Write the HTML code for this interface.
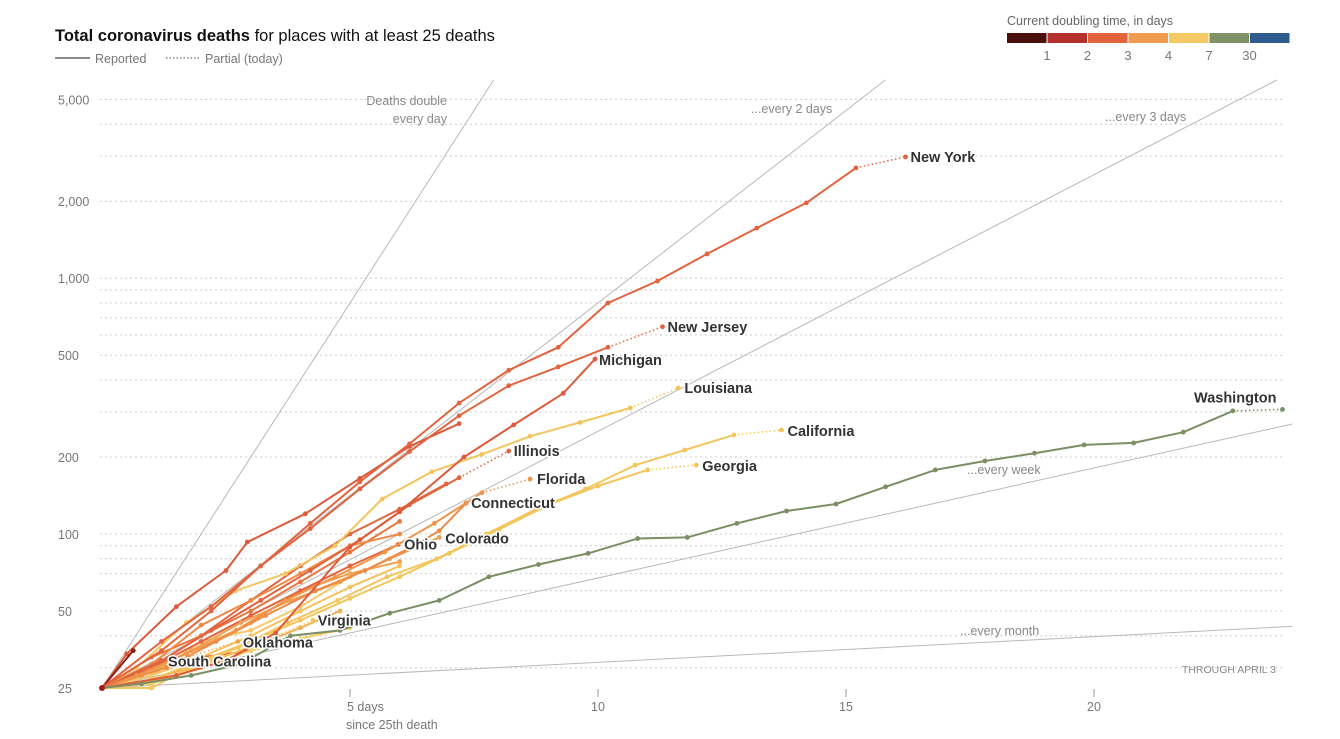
<!DOCTYPE html>
<html><head><meta charset="utf-8">
<style>
html,body{margin:0;padding:0;background:#fff;}
svg{display:block;font-family:"Liberation Sans",sans-serif;}
.lbl{font-weight:bold;font-size:14.5px;fill:#333;paint-order:stroke;stroke:#fff;stroke-width:3px;stroke-linejoin:round;}
.ref{font-size:12.5px;fill:#888;}
.tick{font-size:12.5px;fill:#777;}
</style></head>
<body>
<svg id="chart" width="1340" height="739" viewBox="0 0 1340 739">
  <g>
    <text x="55" y="41" font-size="16.5" fill="#121212"><tspan font-weight="bold">Total coronavirus deaths</tspan> for places with at least 25 deaths</text>
  </g>
  <g>
    <line x1="55" y1="58" x2="90" y2="58" stroke="#666" stroke-width="1.5"/>
    <text x="95" y="63" font-size="12.5" fill="#777">Reported</text>
    <line x1="166" y1="58" x2="200" y2="58" stroke="#888" stroke-width="1.5" stroke-dasharray="1.5,2"/>
    <text x="205" y="63" font-size="12.5" fill="#777">Partial (today)</text>
  </g>
  <g id="colorLegend">
    <text x="1007" y="25" font-size="12.5" fill="#666">Current doubling time, in days</text>
  </g>
  <g id="grid"></g>
  <g id="refs"></g>
  <g id="axes"></g>
  <g id="series"></g>
  <g id="labels"></g>
</svg>
<script>
// ---- data ----
const yTickValues = [25, 50, 100, 200, 500, 1000, 2000, 5000];
const yTickLabels = ["25", "50", "100", "200", "500", "1,000", "2,000", "5,000"];
const gridValues = [30,40,50,60,70,80,90,100,200,300,400,500,600,700,800,900,1000,2000,3000,4000,5000];
const xTickValues = [5, 10, 15, 20];
const xTickLabels = ["5 days", "10", "15", "20"];
const refDoublingDays = [1, 2, 3, 7, 30];
const legendLabels = ["1", "2", "3", "4", "7", "30"];

const seriesNames = ["", "", "", "", "", "", "", "", "", "", "",
  "South Carolina", "Oklahoma", "Virginia", "Ohio", "Colorado", "Connecticut", "Florida", "Illinois",
  "Georgia", "California", "Louisiana", "Michigan", "New Jersey", "New York", "Washington"];
const seriesDays = [
  [0,0.5,1.5,2.5,2.93,4.1,5.2,6.2,7.2],
  [0,1,2,3,4,5,6,6.94],
  [0,1,2,3,4,5,6],
  [0,1,2,3,4,5,6],
  [0,1,2,3,4,5,6],
  [0,1,2,3,4,4.8],
  [0,1,2,3],
  [0,1,2,3,4,5],
  [0,1,2,3,4,5,6],
  [0,0.63],
  [0,1,2,3,4,5],
  [0,1.17],
  [0,0.75,1.75,2.74],
  [0,1.25,2.25,3.25,4.25],
  [0,1,2,3,4,5,5.97],
  [0,0.8,1.8,2.8,3.8,4.8,5.8,6.8],
  [0,1.3,2.3,3.3,4.3,5.3,6.3,6.8,7.34],
  [0,0.7,1.7,2.7,3.7,4.7,5.7,6.7,7.66,8.63],
  [0,1.2,2.2,3.2,4.2,5.2,6.2,7.2,8.2],
  [0,1,2,3,4,5,6,7,8,9,10,11,11.98],
  [0,1,1.75,2.75,3.75,4.75,5.75,6.75,7.75,8.75,9.75,10.75,11.75,12.74,13.7],
  [0,0.7,1.7,2.7,3.7,4.7,5.65,6.65,7.66,8.63,9.64,10.65,11.62],
  [0,1.5,2.5,3.5,5,6,7.3,8.3,9.3,9.94],
  [0,1.2,2.2,3.2,4.2,5.2,6.2,7.2,8.2,9.2,10.2,11.3],
  [0,1.2,2.2,3.2,4.2,5.2,6.2,7.2,8.2,9.2,10.2,11.2,12.2,13.2,14.2,15.2,16.2],
  [0,0.8,1.8,2.8,3.8,4.8,5.8,6.8,7.8,8.8,9.8,10.8,11.8,12.8,13.8,14.8,15.8,16.8,17.8,18.8,19.8,20.8,21.8,22.8,23.8]
];
const seriesValues = [
  [25,34,52,72,93,120,165,220,270],
  [25,30,40,55,75,100,125,157],
  [25,33,40,50,65,85,112],
  [25,30,36,45,60,70,78],
  [25,28,33,40,50,62,75],
  [25,27,31,36,43,50],
  [25,29,33,35],
  [25,28,38,42,52,68],
  [25,31,44,55,70,90,100],
  [25,35],
  [25,26,30,35,39,43],
  [25,32],
  [25,28,33,38],
  [25,27,32,38,46],
  [25,30,38,48,60,75,91],
  [25,28,35,45,55,65,80,97],
  [25,30,38,48,60,72,90,103,132],
  [25,28,34,42,55,68,85,110,145,164],
  [25,32,42,55,72,95,130,166,211],
  [25,27,32,38,46,56,68,84,104,130,154,178,186],
  [25,25,30,36,45,55,68,80,100,125,150,186,213,244,255],
  [25,30,45,60,70,90,137,175,205,241,273,311,372],
  [25,28,32,41,89,122,200,267,355,483],
  [25,35,50,75,105,150,210,290,380,450,537,646],
  [25,38,52,75,110,160,225,325,437,537,800,975,1245,1570,1970,2700,2980],
  [25,26,28,31,40,42,49,55,68,76,84,96,97,110,123,131,153,178,193,207,223,227,250,303,307]
];
const seriesPartial = [false,false,false,false,false,false,false,false,false,false,false,
  true,true,true,false,false,false,true,true,true,true,true,false,true,true,true];

// ---- styles (not data) ----
const seriesColors = ["#dc5a3c","#e0673f","#e8763f","#f3a14e","#f5c15a","#f2b055","#e86a3f","#f5c96a","#ee8a45","#8a2018","#f7cd64",
  "#e57a45","#f0a850","#f4c35e","#e2643f","#f0a050","#ec8a48","#f0954a","#e2643f",
  "#f2c65c","#f2c65c","#f2c65c","#e05a3a","#e2643f","#e2643f","#7a8f63"];
const labelPos = {"South Carolina":[8,6,"start"],"Oklahoma":[5,6,"start"],"Virginia":[5,5,"start"],"Ohio":[6,5,"start"],
  "Colorado":[6,6,"start"],"Connecticut":[5,5,"start"],"Florida":[7,5,"start"],"Illinois":[5,5,"start"],"Georgia":[6,6,"start"],
  "California":[6,6,"start"],"Louisiana":[6,5,"start"],"Michigan":[4,6,"start"],"New Jersey":[5,5,"start"],"New York":[5,5,"start"],
  "Washington":[-6,-7,"end"]};
const legendColors = ["#4a0e0b","#b5302c","#e2643f","#ef9a4e","#f4c865","#7f9265","#2f5b8f"];

const NS = "http://www.w3.org/2000/svg";
const X0 = 102, PXDAY = 49.6, Y0 = 688, PXDBL = 77;
function xScale(d){ return X0 + d * PXDAY; }
function yScale(v){ return Y0 - Math.log2(v / 25) * PXDBL; }
function mk(tag, attrs, parent){ const e = document.createElementNS(NS, tag); for (const k in attrs) e.setAttribute(k, attrs[k]); parent.appendChild(e); return e; }

const cl = document.getElementById("colorLegend");
legendColors.forEach((c, i) => {
  const r = mk("rect", {x: 1007 + i * 40.5, y: 33, width: 39.5, height: 10, fill: c}, cl);
  
  
});
legendLabels.forEach((t, i) => {
  const tx = mk("text", {x: 1047 + i * 40.5, y: 60, "font-size": 13, fill: "#777", "text-anchor": "middle"}, cl);
  tx.textContent = t;
  
  
});

const grid = document.getElementById("grid");
gridValues.forEach(v => {
  const y = yScale(v);
  const l = mk("line", {x1: 100, x2: 1283, y1: y, y2: y, stroke: "#ccc", "stroke-width": 1, "stroke-dasharray": "2,3"}, grid);
  
  
});

const axes = document.getElementById("axes");
yTickValues.forEach((v, i) => {
  const t = mk("text", {x: 58, y: yScale(v) + 5, class: "tick"}, axes);
  t.textContent = yTickLabels[i];
  
  
});
xTickValues.forEach((d, i) => {
  const x = xScale(d);
  const tk = mk("line", {x1: x, x2: x, y1: 689, y2: 697, stroke: "#999", "stroke-width": 1}, axes);
  
  
  const t = mk("text", {x: i === 0 ? x - 3 : x, y: 711, class: "tick", "text-anchor": i === 0 ? "start" : "middle"}, axes);
  t.textContent = xTickLabels[i];
  
  
});
const xt = mk("text", {x: 346, y: 729, class: "tick"}, axes);
xt.textContent = "since 25th death";


const thr = mk("text", {x: 1276, y: 673, "font-size": 10.5, fill: "#888", "text-anchor": "end"}, axes);
thr.textContent = "THROUGH APRIL 3";



const refs = document.getElementById("refs");
const maxDay = 24, topY = 80;
refDoublingDays.forEach(dd => {
  let dEnd = maxDay;
  const dTop = (Y0 - topY) / PXDBL * dd;
  if (dTop < dEnd) dEnd = dTop;
  const l = mk("line", {x1: xScale(0), y1: Y0, x2: xScale(dEnd), y2: Y0 - dEnd / dd * PXDBL, stroke: "#b8b8b8", "stroke-width": 1}, refs);
  
  
});
[["Deaths double",447,105,"end"],["every day",447,123,"end"],["...every 2 days",751,113,"start"],["...every 3 days",1105,121,"start"],
 ["...every week",967,474,"start"],["...every month",960,635,"start"]].forEach(r => {
  const t = mk("text", {x: r[1], y: r[2], class: "ref", "text-anchor": r[3]}, refs);
  t.textContent = r[0];
  
  
});

const sg = document.getElementById("series"), lg = document.getElementById("labels");
seriesNames.forEach((name, i) => {
  const days = seriesDays[i], vals = seriesValues[i], col = seriesColors[i];
  const g = mk("g", {}, sg);
  
  
  const n = days.length;
  const solidN = seriesPartial[i] ? n - 1 : n;
  const pts = [];
  for (let k = 0; k < solidN; k++) pts.push(xScale(days[k]).toFixed(1) + "," + yScale(vals[k]).toFixed(1));
  const pl = mk("polyline", {points: pts.join(" "), fill: "none", stroke: col, "stroke-width": 2, "stroke-linejoin": "round"}, g);
  
  
  if (seriesPartial[i]) {
    const dl = mk("line", {x1: xScale(days[n-2]), y1: yScale(vals[n-2]), x2: xScale(days[n-1]), y2: yScale(vals[n-1]), stroke: col, "stroke-width": 1.5, "stroke-dasharray": "1.5,2.5"}, g);
    
    
  }
  for (let k = 1; k < n; k++) {
    const c = mk("circle", {cx: xScale(days[k]), cy: yScale(vals[k]), r: 2.4, fill: col}, g);
    
    
  }
  if (name) {
    const p = labelPos[name];
    const t = mk("text", {x: xScale(days[n-1]) + p[0], y: yScale(vals[n-1]) + p[1], class: "lbl", "text-anchor": p[2]}, lg);
    t.textContent = name;
    
    
  }
});
const o = mk("circle", {cx: xScale(0), cy: yScale(25), r: 3, fill: "#9a1f17"}, sg);


</script>
</body></html>
